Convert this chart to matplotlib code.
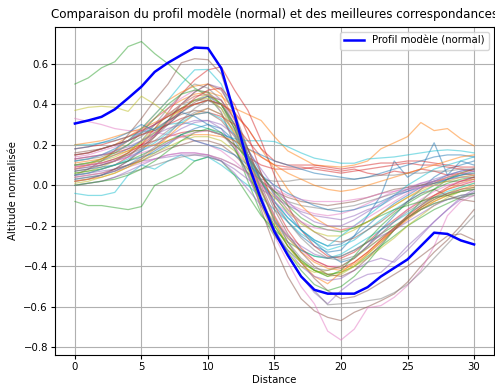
import matplotlib
matplotlib.use("Agg")
import matplotlib.pyplot as plt
import numpy as np

distance = np.arange(31)

model_profile = [
    0.305, 0.32, 0.338, 0.375, 0.43, 0.487, 0.56, 0.605, 0.643, 0.68, 0.677,
    0.578, 0.35, 0.11, -0.07, -0.23, -0.345, -0.45, -0.516, -0.535, -0.535,
    -0.535, -0.503, -0.45, -0.408, -0.366, -0.30, -0.234, -0.24, -0.272, -0.292,
]

# best matches, grouped loosely by amplitude
matches_a = [
    [0.10, 0.11, 0.12, 0.15, 0.18, 0.22, 0.26, 0.30, 0.36, 0.40, 0.42, 0.40, 0.30, 0.15, 0.02, -0.10, -0.18, -0.25, -0.30, -0.33, -0.32, -0.25, -0.15, -0.05, 0.12, 0.04, 0.08, 0.21, 0.05, 0.12, 0.10],
    [0.15, 0.16, 0.18, 0.20, 0.24, 0.28, 0.33, 0.38, 0.42, 0.45, 0.46, 0.44, 0.38, 0.35, 0.32, 0.24, 0.17, 0.135, 0.10, 0.095, 0.09, 0.10, 0.12, 0.18, 0.21, 0.24, 0.31, 0.27, 0.28, 0.23, 0.195],
    [0.50, 0.53, 0.58, 0.61, 0.685, 0.71, 0.65, 0.60, 0.54, 0.48, 0.44, 0.36, 0.20, 0.02, -0.14, -0.25, -0.32, -0.38, -0.42, -0.44, -0.43, -0.40, -0.35, -0.30, -0.25, -0.20, -0.16, -0.12, -0.09, -0.06, -0.04],
    [0.05, 0.06, 0.08, 0.10, 0.14, 0.20, 0.28, 0.36, 0.45, 0.52, 0.57, 0.585, 0.47, 0.37, 0.22, 0.05, -0.10, -0.22, -0.30, -0.35, -0.36, -0.33, -0.28, -0.22, -0.17, -0.12, -0.08, -0.05, -0.02, 0.00, 0.02],
    [0.02, 0.03, 0.05, 0.08, 0.12, 0.18, 0.25, 0.32, 0.40, 0.46, 0.50, 0.48, 0.35, 0.15, -0.05, -0.22, -0.35, -0.45, -0.53, -0.585, -0.52, -0.47, -0.44, -0.43, -0.37, -0.30, -0.24, -0.18, -0.12, -0.07, -0.03],
    [0.05, 0.08, 0.12, 0.17, 0.25, 0.33, 0.42, 0.50, 0.605, 0.625, 0.62, 0.55, 0.35, 0.10, -0.12, -0.30, -0.45, -0.56, -0.62, -0.652, -0.668, -0.627, -0.60, -0.57, -0.536, -0.478, -0.40, -0.33, -0.27, -0.20, -0.12],
    [0.12, 0.13, 0.15, 0.18, 0.22, 0.27, 0.33, 0.38, 0.43, 0.47, 0.46, 0.36, 0.20, 0.05, -0.10, -0.25, -0.38, -0.50, -0.585, -0.72, -0.764, -0.71, -0.605, -0.594, -0.553, -0.495, -0.42, -0.30, -0.15, -0.08, -0.05],
    [0.08, 0.09, 0.10, 0.12, 0.16, 0.22, 0.30, 0.38, 0.45, 0.50, 0.48, 0.42, 0.30, 0.10, -0.08, -0.22, -0.35, -0.45, -0.52, -0.59, -0.585, -0.58, -0.57, -0.56, -0.53, -0.49, -0.43, -0.36, -0.29, -0.22, -0.15],
    [0.37, 0.385, 0.39, 0.385, 0.365, 0.44, 0.40, 0.35, 0.38, 0.42, 0.45, 0.40, 0.28, 0.10, -0.08, -0.20, -0.30, -0.37, -0.42, -0.45, -0.44, -0.40, -0.34, -0.28, -0.22, -0.16, -0.12, -0.08, -0.05, -0.03, -0.02],
    [-0.04, -0.05, -0.05, -0.035, 0.05, 0.10, 0.08, 0.12, 0.15, 0.12, 0.14, 0.10, 0.05, 0.00, -0.06, -0.12, -0.18, -0.24, -0.28, -0.32, -0.30, -0.27, -0.22, -0.17, -0.12, -0.08, -0.04, 0.00, 0.03, 0.05, 0.06],
]

matches_b = [
    [0.15, 0.16, 0.18, 0.20, 0.22, 0.26, 0.30, 0.34, 0.38, 0.42, 0.44, 0.40, 0.30, 0.18, 0.06, -0.05, -0.14, -0.22, -0.28, -0.34, -0.38, -0.36, -0.30, -0.22, -0.15, -0.08, -0.02, 0.04, 0.08, 0.10, 0.12],
    [0.08, 0.10, 0.13, 0.17, 0.22, 0.28, 0.35, 0.42, 0.46, 0.49, 0.50, 0.45, 0.32, 0.15, -0.02, -0.18, -0.30, -0.38, -0.45, -0.486, -0.43, -0.38, -0.33, -0.27, -0.22, -0.17, -0.12, -0.08, -0.05, -0.02, 0.00],
    [-0.08, -0.10, -0.10, -0.11, -0.12, -0.105, 0.00, 0.03, 0.06, 0.12, 0.14, 0.12, 0.05, -0.05, -0.15, -0.22, -0.28, -0.32, -0.35, -0.36, -0.35, -0.32, -0.28, -0.24, -0.20, -0.16, -0.12, -0.09, -0.07, -0.05, -0.04],
    [0.13, 0.14, 0.15, 0.16, 0.18, 0.20, 0.22, 0.24, 0.26, 0.27, 0.27, 0.25, 0.20, 0.14, 0.10, 0.08, 0.08, 0.08, 0.09, 0.08, 0.07, 0.08, 0.06, 0.05, 0.07, 0.06, 0.08, 0.07, 0.05, 0.06, 0.05],
    [0.05, 0.06, 0.07, 0.08, 0.10, 0.12, 0.13, 0.14, 0.15, 0.15, 0.14, 0.12, 0.08, 0.03, -0.02, -0.06, -0.10, -0.13, -0.15, -0.16, -0.17, -0.15, -0.12, -0.10, -0.06, -0.03, 0.00, 0.02, 0.03, 0.04, 0.04],
    [0.02, 0.03, 0.05, 0.08, 0.12, 0.17, 0.24, 0.32, 0.40, 0.46, 0.50, 0.47, 0.36, 0.18, 0.00, -0.15, -0.28, -0.38, -0.46, -0.52, -0.56, -0.55, -0.52, -0.48, -0.44, -0.40, -0.35, -0.30, -0.25, -0.24, -0.27],
    [0.33, 0.315, 0.30, 0.28, 0.27, 0.27, 0.26, 0.25, 0.24, 0.22, 0.20, 0.17, 0.12, 0.06, 0.00, -0.05, -0.09, -0.12, -0.14, -0.15, -0.14, -0.12, -0.09, -0.06, -0.03, -0.01, 0.01, 0.02, 0.03, 0.04, 0.05],
    [0.12, 0.13, 0.14, 0.17, 0.20, 0.24, 0.30, 0.35, 0.40, 0.42, 0.42, 0.38, 0.28, 0.15, 0.05, -0.03, -0.08, -0.10, -0.11, -0.12, -0.11, -0.10, -0.08, -0.06, -0.04, -0.02, 0.00, 0.02, 0.04, 0.05, 0.06],
    [0.06, 0.07, 0.09, 0.12, 0.16, 0.22, 0.28, 0.35, 0.40, 0.44, 0.45, 0.40, 0.30, 0.15, -0.02, -0.18, -0.30, -0.38, -0.42, -0.44, -0.43, -0.40, -0.36, -0.31, -0.26, -0.20, -0.15, -0.10, -0.06, -0.03, -0.01],
    [0.20, 0.20, 0.21, 0.22, 0.24, 0.26, 0.28, 0.30, 0.31, 0.30, 0.28, 0.25, 0.23, 0.22, 0.22, 0.216, 0.19, 0.16, 0.134, 0.122, 0.109, 0.109, 0.13, 0.135, 0.14, 0.15, 0.16, 0.17, 0.175, 0.17, 0.16],
]

matches_c = [
    [0.03, 0.04, 0.05, 0.07, 0.10, 0.13, 0.17, 0.21, 0.25, 0.28, 0.30, 0.28, 0.22, 0.12, 0.02, -0.08, -0.16, -0.22, -0.27, -0.30, -0.29, -0.25, -0.20, -0.14, -0.09, -0.05, -0.01, 0.02, 0.05, 0.07, 0.08],
    [0.20, 0.21, 0.22, 0.24, 0.26, 0.28, 0.31, 0.34, 0.37, 0.40, 0.42, 0.40, 0.35, 0.28, 0.18, 0.08, -0.02, -0.10, -0.16, -0.20, -0.22, -0.21, -0.18, -0.14, -0.10, -0.06, -0.02, 0.01, 0.04, 0.06, 0.08],
    [0.10, 0.11, 0.13, 0.16, 0.20, 0.26, 0.33, 0.40, 0.45, 0.47, 0.46, 0.40, 0.28, 0.10, -0.08, -0.22, -0.33, -0.42, -0.49, -0.52, -0.50, -0.45, -0.38, -0.30, -0.22, -0.15, -0.08, -0.02, 0.03, 0.06, 0.08],
    [0.15, 0.16, 0.18, 0.20, 0.22, 0.25, 0.27, 0.30, 0.33, 0.35, 0.36, 0.34, 0.30, 0.22, 0.14, 0.10, 0.09, 0.09, 0.08, 0.07, 0.06, 0.07, 0.08, 0.09, 0.10, 0.11, 0.10, 0.10, 0.09, 0.08, 0.07],
    [0.08, 0.09, 0.10, 0.12, 0.14, 0.17, 0.20, 0.24, 0.28, 0.31, 0.32, 0.28, 0.18, 0.05, -0.10, -0.22, -0.32, -0.40, -0.45, -0.47, -0.46, -0.42, -0.38, -0.36, -0.38, -0.32, -0.25, -0.18, -0.12, -0.06, -0.02],
    [0.04, 0.05, 0.06, 0.08, 0.10, 0.12, 0.15, 0.18, 0.20, 0.22, 0.22, 0.20, 0.15, 0.08, 0.02, -0.03, -0.06, -0.08, -0.09, -0.10, -0.09, -0.08, -0.06, -0.04, -0.02, -0.01, 0.00, 0.01, 0.02, 0.02, 0.03],
    [0.14, 0.15, 0.17, 0.19, 0.22, 0.26, 0.30, 0.35, 0.40, 0.44, 0.45, 0.42, 0.32, 0.15, -0.02, -0.15, -0.25, -0.32, -0.37, -0.40, -0.40, -0.36, -0.30, -0.24, -0.18, -0.12, -0.07, -0.03, 0.00, 0.02, 0.04],
    [0.00, 0.01, 0.02, 0.04, 0.06, 0.08, 0.10, 0.12, 0.14, 0.15, 0.15, 0.13, 0.10, 0.06, 0.03, 0.02, 0.02, 0.03, 0.03, 0.03, 0.03, 0.03, 0.04, 0.05, 0.05, 0.06, 0.06, 0.07, 0.07, 0.08, 0.08],
    [0.10, 0.11, 0.12, 0.14, 0.17, 0.21, 0.26, 0.32, 0.38, 0.42, 0.43, 0.38, 0.25, 0.08, -0.10, -0.24, -0.34, -0.40, -0.43, -0.42, -0.40, -0.36, -0.31, -0.26, -0.21, -0.16, -0.11, -0.07, -0.04, -0.01, 0.01],
    [0.12, 0.13, 0.15, 0.18, 0.22, 0.28, 0.35, 0.42, 0.50, 0.57, 0.572, 0.50, 0.35, 0.15, -0.03, -0.17, -0.26, -0.32, -0.35, -0.36, -0.34, -0.30, -0.26, -0.22, -0.18, -0.14, -0.10, -0.06, -0.03, -0.01, 0.01],
]

matches_d = [
    [0.07, 0.08, 0.09, 0.10, 0.12, 0.14, 0.16, 0.20, 0.25, 0.22, 0.20, 0.18, 0.15, 0.10, 0.05, 0.00, -0.04, -0.07, -0.10, -0.12, -0.13, -0.12, -0.10, -0.08, -0.05, -0.03, -0.01, 0.01, 0.03, 0.05, 0.07],
    [0.02, 0.03, 0.04, 0.06, 0.09, 0.13, 0.18, 0.24, 0.30, 0.35, 0.38, 0.35, 0.26, 0.12, -0.03, -0.16, -0.26, -0.33, -0.38, -0.41, -0.42, -0.39, -0.34, -0.28, -0.22, -0.16, -0.11, -0.06, -0.02, 0.01, 0.03],
    [0.06, 0.07, 0.08, 0.10, 0.12, 0.15, 0.18, 0.22, 0.25, 0.27, 0.27, 0.25, 0.20, 0.13, 0.05, -0.03, -0.10, -0.16, -0.20, -0.22, -0.23, -0.21, -0.18, -0.15, -0.12, -0.10, -0.08, -0.06, -0.05, -0.03, -0.02],
    [0.18, 0.19, 0.20, 0.22, 0.24, 0.27, 0.30, 0.34, 0.38, 0.40, 0.42, 0.40, 0.36, 0.28, 0.18, 0.12, 0.10, 0.10, 0.10, 0.09, 0.08, 0.09, 0.10, 0.11, 0.11, 0.12, 0.12, 0.11, 0.10, 0.09, 0.09],
    [0.00, 0.01, 0.02, 0.04, 0.07, 0.10, 0.13, 0.15, 0.16, 0.16, 0.15, 0.12, 0.06, -0.02, -0.10, -0.18, -0.25, -0.30, -0.34, -0.36, -0.35, -0.32, -0.28, -0.25, -0.22, -0.18, -0.14, -0.10, -0.07, -0.05, -0.04],
    [0.16, 0.17, 0.18, 0.20, 0.22, 0.25, 0.28, 0.32, 0.35, 0.37, 0.36, 0.32, 0.24, 0.14, 0.05, -0.04, -0.12, -0.18, -0.23, -0.27, -0.28, -0.26, -0.22, -0.18, -0.13, -0.08, -0.04, -0.02, -0.05, -0.07, -0.08],
    [0.04, 0.05, 0.06, 0.07, 0.09, 0.11, 0.13, 0.15, 0.16, 0.16, 0.15, 0.13, 0.10, 0.06, 0.02, -0.02, -0.05, -0.07, -0.08, -0.08, -0.08, -0.07, -0.06, -0.04, -0.03, -0.02, -0.01, 0.00, 0.00, 0.01, 0.02],
    [0.10, 0.10, 0.11, 0.13, 0.15, 0.18, 0.22, 0.27, 0.32, 0.36, 0.38, 0.35, 0.27, 0.15, 0.03, -0.08, -0.18, -0.26, -0.32, -0.36, -0.37, -0.35, -0.31, -0.26, -0.21, -0.16, -0.12, -0.09, -0.07, -0.06, -0.05],
    [0.01, 0.02, 0.04, 0.06, 0.09, 0.12, 0.16, 0.19, 0.22, 0.24, 0.24, 0.22, 0.17, 0.10, 0.02, -0.06, -0.13, -0.19, -0.23, -0.25, -0.25, -0.22, -0.18, -0.14, -0.10, -0.06, -0.03, 0.00, 0.02, 0.04, 0.05],
    [0.05, 0.06, 0.08, 0.10, 0.13, 0.17, 0.21, 0.26, 0.31, 0.35, 0.36, 0.33, 0.25, 0.14, 0.02, -0.08, -0.16, -0.22, -0.27, -0.30, -0.25, -0.20, -0.15, -0.10, -0.05, 0.00, 0.04, 0.08, 0.10, 0.12, 0.14],
]

matches_e = [
    [0.18, 0.19, 0.21, 0.23, 0.26, 0.30, 0.27, 0.32, 0.36, 0.34, 0.30, 0.26, 0.22, 0.18, 0.15, 0.12, 0.10, 0.08, 0.06, 0.05, 0.04, 0.03, 0.04, 0.06, 0.08, 0.10, 0.12, 0.14, 0.15, 0.15, 0.14],
    [0.11, 0.12, 0.13, 0.15, 0.17, 0.19, 0.20, 0.22, 0.24, 0.25, 0.25, 0.24, 0.22, 0.18, 0.14, 0.10, 0.06, 0.03, 0.00, -0.02, -0.03, -0.02, 0.00, 0.02, 0.04, 0.06, 0.08, 0.10, 0.12, 0.14, 0.15],
    [0.00, 0.01, 0.02, 0.03, 0.05, 0.08, 0.12, 0.17, 0.22, 0.26, 0.28, 0.26, 0.18, 0.06, -0.08, -0.20, -0.30, -0.37, -0.42, -0.45, -0.42, -0.35, -0.27, -0.20, -0.14, -0.09, -0.05, -0.02, 0.01, 0.03, 0.04],
    [0.09, 0.10, 0.11, 0.13, 0.16, 0.20, 0.25, 0.31, 0.37, 0.43, 0.47, 0.48, 0.40, 0.25, 0.06, -0.10, -0.22, -0.31, -0.37, -0.40, -0.41, -0.38, -0.33, -0.27, -0.21, -0.15, -0.10, -0.05, -0.01, 0.02, 0.04],
    [0.13, 0.14, 0.15, 0.17, 0.19, 0.22, 0.25, 0.28, 0.30, 0.32, 0.32, 0.30, 0.25, 0.17, 0.08, -0.01, -0.08, -0.14, -0.18, -0.20, -0.20, -0.17, -0.13, -0.09, -0.05, -0.02, 0.01, 0.03, 0.05, 0.07, 0.08],
    [0.07, 0.08, 0.10, 0.12, 0.15, 0.19, 0.24, 0.30, 0.36, 0.41, 0.44, 0.42, 0.33, 0.18, 0.02, -0.12, -0.24, -0.33, -0.40, -0.44, -0.45, -0.42, -0.36, -0.29, -0.22, -0.16, -0.11, -0.07, -0.04, -0.02, -0.01],
    [0.09, 0.10, 0.11, 0.12, 0.14, 0.16, 0.18, 0.21, 0.24, 0.26, 0.27, 0.25, 0.19, 0.10, 0.00, -0.08, -0.14, -0.18, -0.21, -0.22, -0.22, -0.20, -0.16, -0.12, -0.08, -0.04, -0.01, 0.02, 0.04, 0.06, 0.07],
    [0.03, 0.04, 0.05, 0.07, 0.10, 0.14, 0.19, 0.25, 0.32, 0.38, 0.42, 0.40, 0.30, 0.15, -0.02, -0.17, -0.28, -0.36, -0.41, -0.42, -0.40, -0.36, -0.30, -0.24, -0.18, -0.13, -0.09, -0.06, -0.04, -0.03, -0.02],
]

fig, ax = plt.subplots(figsize=(4.95, 3.85), dpi=100)
fig.subplots_adjust(left=0.111, right=0.998, bottom=0.078, top=0.931)

for profile in matches_a + matches_b + matches_c + matches_d + matches_e:
    ax.plot(distance, profile, linewidth=0.9, alpha=0.5)

ax.plot(distance, model_profile, color="blue", linewidth=1.8, label="Profil modèle (normal)")

ax.set_title("Comparaison du profil modèle (normal) et des meilleures correspondances", fontsize=8.6)
ax.set_xlabel("Distance", fontsize=7.3, labelpad=2)
ax.set_ylabel("Altitude normalisée", fontsize=7.3, labelpad=4)
ax.tick_params(labelsize=7.3, length=3, pad=2)
ax.grid(True)
ax.legend(loc="upper right", fontsize=7.3)

fig.savefig("out.png", dpi=100)
